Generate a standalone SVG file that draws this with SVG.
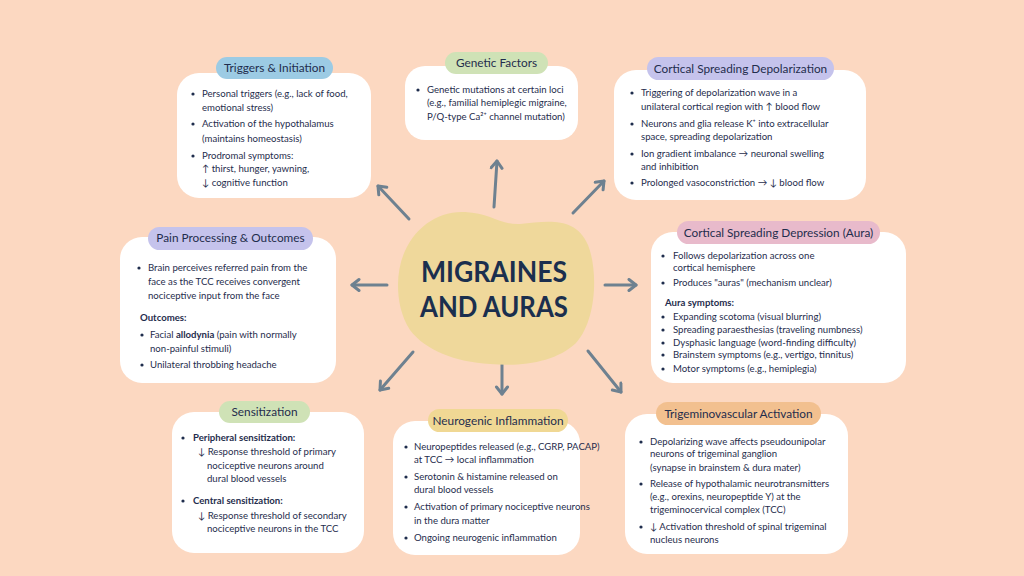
<svg xmlns="http://www.w3.org/2000/svg" width="1024" height="576" viewBox="0 0 1024 576">
<defs>
<style>
.card{fill:#FFFFFF}
.t{font-family:Lato,"Open Sans","Liberation Sans",sans-serif;font-size:9.6px;fill:#1F2D4D}
.b{font-weight:700}
.h{font-family:Lato,"Open Sans","Liberation Sans",sans-serif;font-size:11.8px;fill:#1F2D4D;text-anchor:middle}
.dot{fill:#1F2D4D}
.ar{stroke:#6E8190;stroke-width:3;stroke-linecap:round;fill:none;marker-end:url(#ah)}
</style>
<marker id="ah" markerUnits="userSpaceOnUse" markerWidth="16" markerHeight="16" refX="9" refY="7" orient="auto">
<path d="M2,1.5 L9,7 L2,12.5" fill="none" stroke="#6E8190" stroke-width="3" stroke-linecap="round" stroke-linejoin="round"/>
</marker>
</defs>
<rect width="1024" height="576" fill="#FCD8C1"/>

<g id="connectors">
<line class="ar" x1="409" y1="219" x2="378" y2="186"/>
<line class="ar" x1="494" y1="207" x2="497" y2="161"/>
<line class="ar" x1="573" y1="213" x2="604" y2="181"/>
<line class="ar" x1="387" y1="285" x2="352" y2="285"/>
<line class="ar" x1="605" y1="285" x2="636" y2="285"/>
<line class="ar" x1="413" y1="352" x2="380" y2="390"/>
<line class="ar" x1="502" y1="362" x2="502" y2="394"/>
<line class="ar" x1="588" y1="351" x2="621" y2="392"/>
</g>

<g id="center">
<path d="M398,285 C398,240 430,210 465,212 C490,213 500,225 520,224 C545,222 575,215 588,245 C598,270 597,320 576,343 C556,362 522,367 490,364 C455,362 425,350 410,330 C401,316 398,300 398,285 Z" fill="#EFD89B"/>
<text x="494" y="282" text-anchor="middle" font-family="Lato,'Open Sans',sans-serif" font-weight="700" font-size="28" fill="#1B2F4E" textLength="146" lengthAdjust="spacingAndGlyphs">MIGRAINES</text>
<text x="494" y="317" text-anchor="middle" font-family="Lato,'Open Sans',sans-serif" font-weight="700" font-size="28" fill="#1B2F4E" textLength="148" lengthAdjust="spacingAndGlyphs">AND AURAS</text>
</g>

<g id="triggers">
<rect class="card" x="177" y="73" width="194" height="125" rx="22"/>
<rect x="216" y="57" width="117" height="22" rx="11" fill="#9CCBE4"/>
<text class="h" x="274.5" y="72">Triggers &amp; Initiation</text>
<circle class="dot" cx="193" cy="94" r="1.6"/>
<text class="t" x="202" y="97">Personal triggers (e.g., lack of food,</text>
<text class="t" x="202" y="111">emotional stress)</text>
<circle class="dot" cx="193" cy="124" r="1.6"/>
<text class="t" x="202" y="127">Activation of the hypothalamus</text>
<text class="t" x="202" y="142">(maintains homeostasis)</text>
<circle class="dot" cx="193" cy="156" r="1.6"/>
<text class="t" x="202" y="159">Prodromal symptoms:</text>
<text class="t" x="202" y="172">↑ thirst, hunger, yawning,</text>
<text class="t" x="202" y="186">↓ cognitive function</text>
</g>

<g id="genetic">
<rect class="card" x="405" y="66" width="173" height="74" rx="20"/>
<rect x="445" y="52" width="103" height="22" rx="11" fill="#CFE2B6"/>
<text class="h" x="496.5" y="67">Genetic Factors</text>
<circle class="dot" cx="418" cy="90" r="1.6"/>
<text class="t" x="427" y="93">Genetic mutations at certain loci</text>
<text class="t" x="427" y="106">(e.g., familial hemiplegic migraine,</text>
<text class="t" x="427" y="120">P/Q-type Ca²⁺ channel mutation)</text>
</g>

<g id="csd">
<rect class="card" x="614" y="70" width="252" height="130" rx="22"/>
<rect x="647" y="57" width="187" height="23" rx="11.5" fill="#C5C3EC"/>
<text class="h" x="740.5" y="73">Cortical Spreading Depolarization</text>
<circle class="dot" cx="632" cy="93" r="1.6"/>
<text class="t" x="641" y="96">Triggering of depolarization wave in a</text>
<text class="t" x="641" y="110">unilateral cortical region with ↑ blood flow</text>
<circle class="dot" cx="632" cy="124" r="1.6"/>
<text class="t" x="641" y="127">Neurons and glia release K⁺ into extracellular</text>
<text class="t" x="641" y="140">space, spreading depolarization</text>
<circle class="dot" cx="632" cy="154" r="1.6"/>
<text class="t" x="641" y="157">Ion gradient imbalance → neuronal swelling</text>
<text class="t" x="641" y="170">and inhibition</text>
<circle class="dot" cx="632" cy="183" r="1.6"/>
<text class="t" x="641" y="186">Prolonged vasoconstriction → ↓ blood flow</text>
</g>

<g id="pain">
<rect class="card" x="120" y="237" width="216" height="146" rx="22"/>
<rect x="148" y="227" width="165" height="23" rx="11.5" fill="#C5C3EC"/>
<text class="h" x="230.5" y="242">Pain Processing &amp; Outcomes</text>
<circle class="dot" cx="139" cy="268" r="1.6"/>
<text class="t" x="148" y="271">Brain perceives referred pain from the</text>
<text class="t" x="148" y="285">face as the TCC receives convergent</text>
<text class="t" x="148" y="299">nociceptive input from the face</text>
<text class="t b" x="140" y="321">Outcomes:</text>
<circle class="dot" cx="142" cy="335" r="1.6"/>
<text class="t" x="150" y="338">Facial <tspan class="b">allodynia</tspan> (pain with normally</text>
<text class="t" x="150" y="352">non-painful stimuli)</text>
<circle class="dot" cx="142" cy="365" r="1.6"/>
<text class="t" x="150" y="368">Unilateral throbbing headache</text>
</g>

<g id="aura">
<rect class="card" x="651" y="232" width="255" height="151" rx="22"/>
<rect x="677" y="221" width="203" height="23" rx="11.5" fill="#E8BACB"/>
<text class="h" x="778.5" y="237">Cortical Spreading Depression (Aura)</text>
<circle class="dot" cx="663" cy="256" r="1.6"/>
<text class="t" x="673" y="259">Follows depolarization across one</text>
<text class="t" x="673" y="271">cortical hemisphere</text>
<circle class="dot" cx="663" cy="283" r="1.6"/>
<text class="t" x="673" y="286">Produces "auras" (mechanism unclear)</text>
<text class="t b" x="665" y="306">Aura symptoms:</text>
<circle class="dot" cx="663" cy="317" r="1.6"/>
<text class="t" x="673" y="320">Expanding scotoma (visual blurring)</text>
<circle class="dot" cx="663" cy="330" r="1.6"/>
<text class="t" x="673" y="333">Spreading paraesthesias (traveling numbness)</text>
<circle class="dot" cx="663" cy="343" r="1.6"/>
<text class="t" x="673" y="346">Dysphasic language (word-finding difficulty)</text>
<circle class="dot" cx="663" cy="355" r="1.6"/>
<text class="t" x="673" y="358">Brainstem symptoms (e.g., vertigo, tinnitus)</text>
<circle class="dot" cx="663" cy="369" r="1.6"/>
<text class="t" x="673" y="372">Motor symptoms (e.g., hemiplegia)</text>
</g>

<g id="sensitization">
<rect class="card" x="172" y="412" width="192" height="141" rx="22"/>
<rect x="219" y="401" width="91" height="22" rx="11" fill="#CFE2B6"/>
<text class="h" x="264.5" y="416">Sensitization</text>
<circle class="dot" cx="183" cy="438" r="1.6"/>
<text class="t b" x="193" y="441">Peripheral sensitization:</text>
<text class="t" x="198" y="455">↓ Response threshold of primary</text>
<text class="t" x="207" y="469">nociceptive neurons around</text>
<text class="t" x="207" y="482">dural blood vessels</text>
<circle class="dot" cx="183" cy="501" r="1.6"/>
<text class="t b" x="193" y="504">Central sensitization:</text>
<text class="t" x="198" y="519">↓ Response threshold of secondary</text>
<text class="t" x="207" y="532">nociceptive neurons in the TCC</text>
</g>

<g id="neurogenic">
<rect class="card" x="393" y="421" width="187" height="134" rx="22"/>
<rect x="428" y="409" width="140" height="23" rx="11.5" fill="#F0D894"/>
<text class="h" x="498" y="425">Neurogenic Inflammation</text>
<circle class="dot" cx="406" cy="447" r="1.6"/>
<text class="t" x="414" y="450">Neuropeptides released (e.g., CGRP, PACAP)</text>
<text class="t" x="414" y="463">at TCC → local inflammation</text>
<circle class="dot" cx="406" cy="477" r="1.6"/>
<text class="t" x="414" y="480">Serotonin &amp; histamine released on</text>
<text class="t" x="414" y="493">dural blood vessels</text>
<circle class="dot" cx="406" cy="507" r="1.6"/>
<text class="t" x="414" y="510">Activation of primary nociceptive neurons</text>
<text class="t" x="414" y="524">in the dura matter</text>
<circle class="dot" cx="406" cy="538" r="1.6"/>
<text class="t" x="414" y="541">Ongoing neurogenic inflammation</text>
</g>

<g id="trigeminovascular">
<rect class="card" x="625" y="414" width="223" height="140" rx="22"/>
<rect x="656" y="402" width="165" height="23" rx="11.5" fill="#F2C08F"/>
<text class="h" x="738.5" y="418">Trigeminovascular Activation</text>
<circle class="dot" cx="641" cy="442" r="1.6"/>
<text class="t" x="650" y="445">Depolarizing wave affects pseudounipolar</text>
<text class="t" x="650" y="457">neurons of trigeminal ganglion</text>
<text class="t" x="650" y="471">(synapse in brainstem &amp; dura mater)</text>
<circle class="dot" cx="641" cy="484" r="1.6"/>
<text class="t" x="650" y="487">Release of hypothalamic neurotransmitters</text>
<text class="t" x="650" y="500">(e.g., orexins, neuropeptide Y) at the</text>
<text class="t" x="650" y="513">trigeminocervical complex (TCC)</text>
<circle class="dot" cx="641" cy="527" r="1.6"/>
<text class="t" x="650" y="530">↓ Activation threshold of spinal trigeminal</text>
<text class="t" x="650" y="543">nucleus neurons</text>
</g>
</svg>
